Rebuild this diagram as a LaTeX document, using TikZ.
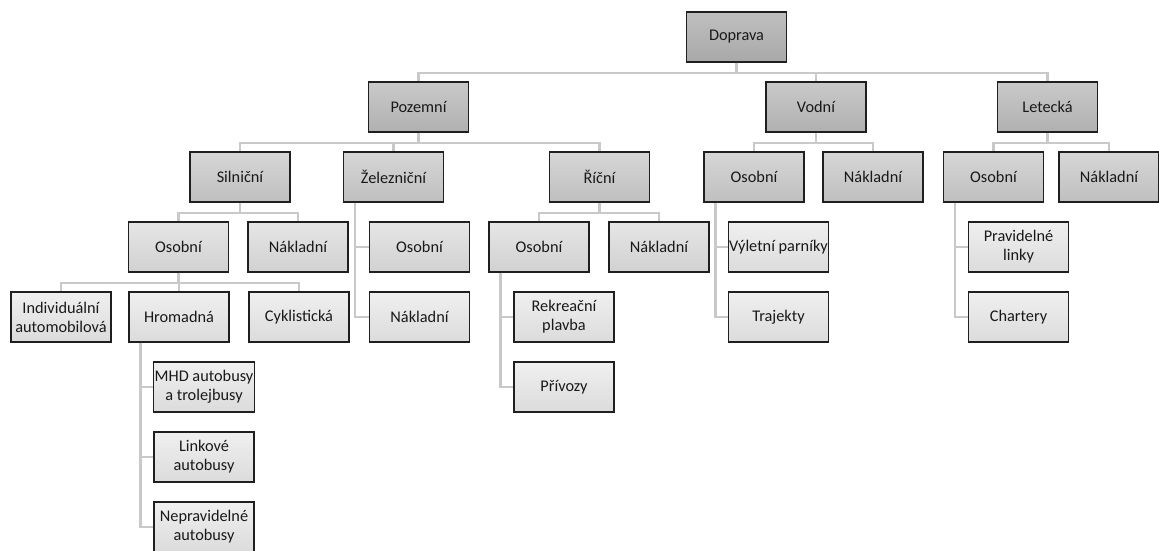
\documentclass[tikz,border=0pt]{standalone}
\usepackage{fontspec}
\setmainfont{Carlito}
\begin{document}
\begin{tikzpicture}[x=1pt,y=-1pt,
  box/.style={draw=black!88,line width=1.2pt,minimum width=100pt,minimum height=50pt,
    inner sep=1pt,align=center,font=\fontsize{16.3}{19}\selectfont,text=black!90},
  lv0/.style={box,top color=gray!50,bottom color=gray!68},
  lv1/.style={box,top color=gray!42,bottom color=gray!62},
  lv2/.style={box,top color=gray!32,bottom color=gray!50},
  lv3/.style={box,top color=gray!20,bottom color=gray!36},
  lv4/.style={box,top color=gray!12,bottom color=gray!28},
  conn/.style={draw=black!21,line width=2.6pt}]
\useasboundingbox (0,0) rectangle (1159,550);
\clip (0,0) rectangle (1159,550);
% level 0
\node[lv0] (doprava) at (736.5,37) {Doprava};
% level 1
\node[lv1] (pozemni) at (418.5,107) {Pozemní};
\node[lv1] (vodni) at (816,107) {Vodní};
\node[lv1] (letecka) at (1047.5,107) {Letecká};
% level 2
\node[lv2] (silnicni) at (240,177) {Silniční};
\node[lv2] (zeleznicni) at (393.5,177) {Železniční};
\node[lv2] (ricni) at (599.5,177) {Říční};
\node[lv2] (vosobni) at (754,177) {Osobní};
\node[lv2] (vnakladni) at (873,177) {Nákladní};
\node[lv2] (losobni) at (993.5,177) {Osobní};
\node[lv2] (lnakladni) at (1109,177) {Nákladní};
% level 3
\node[lv3] (sosobni) at (178.5,247) {Osobní};
\node[lv3] (snakladni) at (298,247) {Nákladní};
\node[lv3] (zosobni) at (419.5,247) {Osobní};
\node[lv3] (rosobni) at (539,247) {Osobní};
\node[lv3] (rnakladni) at (659,247) {Nákladní};
\node[lv4] (vylet) at (778.5,247) {Výletní parníky};
\node[lv4] (plinky) at (1018.5,247) {Pravidelné\\linky};
% level 4
\node[lv4] (individ) at (61,317) {Individuální\\automobilová};
\node[lv4] (hromadna) at (179,317) {Hromadná};
\node[lv4] (cyklist) at (299,317) {Cyklistická};
\node[lv4] (znakladni) at (419.5,317) {Nákladní};
\node[lv4] (rekreacni) at (564,317) {Rekreační\\plavba};
\node[lv4] (trajekty) at (778.5,317) {Trajekty};
\node[lv4] (chartery) at (1018.5,317) {Chartery};
% deeper
\node[lv4] (mhd) at (204,387) {MHD autobusy\\a trolejbusy};
\node[lv4] (privozy) at (564,387) {Přívozy};
\node[lv4] (linkove) at (204,457) {Linkové\\autobusy};
\node[lv4] (neprav) at (204,527) {Nepravidelné\\autobusy};
% connectors (tree)
\foreach \p/\c in {doprava/pozemni,doprava/vodni,doprava/letecka,
  pozemni/silnicni,pozemni/zeleznicni,pozemni/ricni,
  vodni/vosobni,vodni/vnakladni,letecka/losobni,letecka/lnakladni,
  silnicni/sosobni,silnicni/snakladni,ricni/rosobni,ricni/rnakladni,
  sosobni/individ,sosobni/hromadna,sosobni/cyklist}
  \draw[conn] (\p.south) -- ++(0,10.5) -| (\c.north);
% side connectors
\foreach \p/\c in {zeleznicni/zosobni,zeleznicni/znakladni,
  hromadna/mhd,hromadna/linkove,hromadna/neprav,
  rosobni/rekreacni,rosobni/privozy,
  vosobni/vylet,vosobni/trajekty,
  losobni/plinky,losobni/chartery}
  \draw[conn] ([xshift=12pt]\p.south west) |- (\c.west);
\end{tikzpicture}
\end{document}
